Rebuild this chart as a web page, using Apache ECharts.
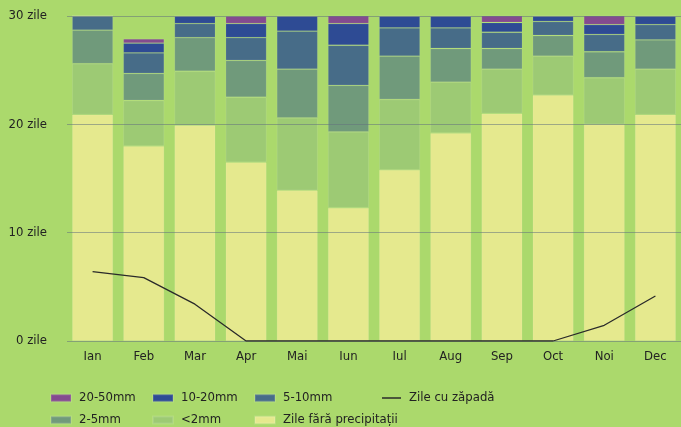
<!DOCTYPE html>
<html>
<head>
<meta charset="utf-8">
<script src="https://cdn.jsdelivr.net/npm/echarts@6/dist/echarts.min.js"></script>
<style>
html,body{margin:0;padding:0;background:#abd96c;}
#chart{width:681px;height:427px;}
</style>
</head>
<body>
<div id="chart"></div>
<script>
const months = ['Ian','Feb','Mar','Apr','Mai','Iun','Iul','Aug','Sep','Oct','Noi','Dec'];
const yTicks = [0, 10, 20, 30];
const dry     = [20.9, 18.0, 19.9, 16.5, 13.9, 12.3, 15.8, 19.2, 21.0, 22.7, 20.0, 20.9];
const lt2     = [4.7, 4.2, 5.0, 6.0, 6.7, 7.0, 6.5, 4.7, 4.1, 3.6, 4.3, 4.2];
const mm2_5   = [3.1, 2.5, 3.1, 3.4, 4.5, 4.3, 4.0, 3.1, 1.9, 1.9, 2.4, 2.7];
const mm5_10  = [1.3, 1.9, 1.3, 2.1, 3.5, 3.7, 2.6, 1.9, 1.5, 1.3, 1.6, 1.4];
const mm10_20 = [0, 0.9, 0.7, 1.3, 1.4, 2.0, 1.1, 1.1, 0.9, 0.5, 0.9, 0.8];
const mm20_50 = [0, 0.4, 0, 0.7, 0, 0.8, 0, 0, 0.7, 0, 0.9, 0];
const snow    = [6.4, 5.85, 3.4, 0, 0, 0, 0, 0, 0, 0, 1.45, 4.15];

const FONT = 'DejaVu Sans Condensed';
const colors = {
  dry: '#e5e98e', lt2: '#9dca74', mm2_5: '#709a7b', mm5_10: '#476c88',
  mm10_20: '#2e4b94', mm20_50: '#844b8f'
};

function barSeries(name, data, color) {
  return {
    name, type: 'bar', stack: 'total', data, barWidth: 41,
    itemStyle: { color, borderColor: 'rgba(255,255,255,0.12)', borderWidth: 0.8 },
    emphasis: { disabled: true }
  };
}

function legend(name, left, top, extra) {
  return Object.assign({
    data: [{ name }], left, top, padding: 0, itemGap: 0,
    itemWidth: 20, itemHeight: 7, icon: 'rect', selectedMode: false,
    textStyle: { fontFamily: FONT, fontSize: 13, color: '#222', padding: [0, 0, 0, 3], lineHeight: 14 }
  }, extra || {});
}

const chart = echarts.init(document.getElementById('chart'), null, { renderer: 'canvas' });
chart.setOption({
  backgroundColor: '#abd96c',
  animation: false,
  grid: { left: 67, top: 16, width: 624, height: 325, containLabel: false },
  xAxis: {
    type: 'category', data: months,
    axisLine: { show: false }, axisTick: { show: false },
    axisLabel: { fontFamily: FONT, fontSize: 13, color: '#222', margin: 9 }
  },
  yAxis: {
    type: 'value', min: yTicks[0], max: yTicks[yTicks.length - 1], interval: 10, z: 5,
    axisLine: { show: false }, axisTick: { show: false },
    axisLabel: { fontFamily: FONT, fontSize: 13, color: '#222', margin: 20, formatter: '{value} zile' },
    splitLine: { lineStyle: { color: 'rgba(100,115,125,0.55)', width: 1 } }
  },
  legend: [
    legend('20-50mm', 50, 391),
    legend('10-20mm', 152, 391),
    legend('5-10mm', 254, 391),
    legend('Zile cu zăpadă', 382, 391, { itemHeight: 1.5, itemWidth: 19 }),
    legend('2-5mm', 50, 413),
    legend('<2mm', 152, 413),
    legend('Zile fără precipitații', 254, 413)
  ],
  series: [
    barSeries('Zile fără precipitații', dry, colors.dry),
    barSeries('<2mm', lt2, colors.lt2),
    barSeries('2-5mm', mm2_5, colors.mm2_5),
    barSeries('5-10mm', mm5_10, colors.mm5_10),
    barSeries('10-20mm', mm10_20, colors.mm10_20),
    barSeries('20-50mm', mm20_50, colors.mm20_50),
    {
      name: 'Zile cu zăpadă', type: 'line', data: snow, z: 10,
      symbol: 'none', showSymbol: false,
      lineStyle: { color: '#2a2a2a', width: 1.3 }, itemStyle: { color: '#2a2a2a' },
      emphasis: { disabled: true }
    }
  ]
});
</script>
</body>
</html>
